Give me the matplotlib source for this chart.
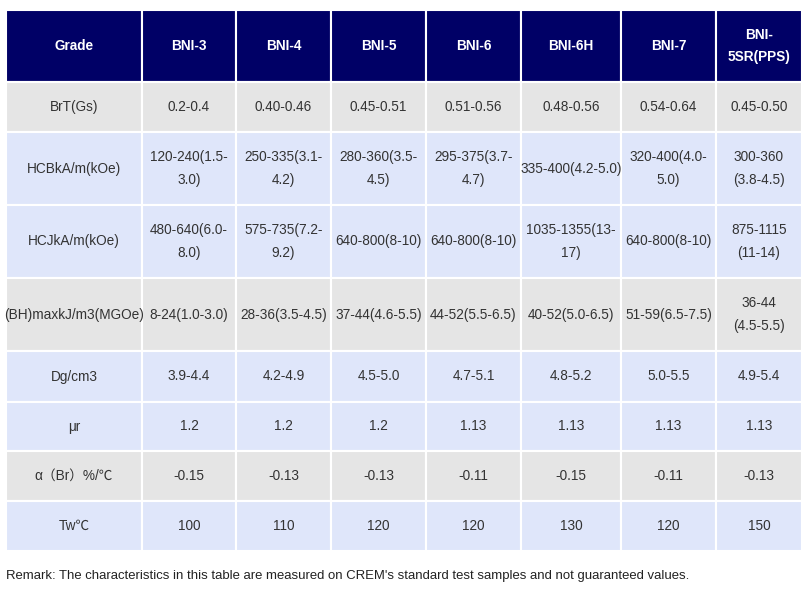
import matplotlib.pyplot as plt
import matplotlib.patches as patches

# table content
grades = ['BNI-3', 'BNI-4', 'BNI-5', 'BNI-6', 'BNI-6H', 'BNI-7', 'BNI-\n5SR(PPS)']
row_labels = ['BrT(Gs)', 'HCBkA/m(kOe)', 'HCJkA/m(kOe)', '(BH)maxkJ/m3(MGOe)',
              'Dg/cm3', '\u03bcr', '\u03b1\uff08Br\uff09%/\u2103', 'Tw\u2103']
brt = ['0.2-0.4', '0.40-0.46', '0.45-0.51', '0.51-0.56', '0.48-0.56', '0.54-0.64', '0.45-0.50']
hcb = ['120-240(1.5-\n3.0)', '250-335(3.1-\n4.2)', '280-360(3.5-\n4.5)', '295-375(3.7-\n4.7)',
       '335-400(4.2-5.0)', '320-400(4.0-\n5.0)', '300-360\n(3.8-4.5)']
hcj = ['480-640(6.0-\n8.0)', '575-735(7.2-\n9.2)', '640-800(8-10)', '640-800(8-10)',
       '1035-1355(13-\n17)', '640-800(8-10)', '875-1115\n(11-14)']
bhmax = ['8-24(1.0-3.0)', '28-36(3.5-4.5)', '37-44(4.6-5.5)', '44-52(5.5-6.5)',
         '40-52(5.0-6.5)', '51-59(6.5-7.5)', '36-44\n(4.5-5.5)']
dg = ['3.9-4.4', '4.2-4.9', '4.5-5.0', '4.7-5.1', '4.8-5.2', '5.0-5.5', '4.9-5.4']
mur = ['1.2', '1.2', '1.2', '1.13', '1.13', '1.13', '1.13']
alpha = ['-0.15', '-0.13', '-0.13', '-0.11', '-0.15', '-0.11', '-0.13']
tw = ['100', '110', '120', '120', '130', '120', '150']
remark = "Remark: The characteristics in this table are measured on CREM's standard test samples and not guaranteed values."

rows = [brt, hcb, hcj, bhmax, dg, mur, alpha, tw]
row_shade = ['grey', 'blue', 'blue', 'grey', 'blue', 'blue', 'grey', 'blue']

# layout in pixels
col_edges = [6, 142, 236, 331, 426, 521, 621, 716, 802]
row_edges = [10, 82, 132, 205, 278, 351, 402, 451, 501, 551]
fills = {'grey': '#e5e5e5', 'blue': '#dfe6fa'}
head_col = '#000066'
txt_col = '#333333'

plt.rcParams['font.family'] = ['Liberation Sans', 'Noto Sans CJK SC', 'DejaVu Sans']
fig = plt.figure(figsize=(8.11, 5.92), dpi=100)
ax = fig.add_axes([0, 0, 1, 1])
ax.set_xlim(0, 811)
ax.set_ylim(592, 0)
ax.axis('off')

def cell(c, r, text, face, color, weight='normal'):
    x0, x1 = col_edges[c], col_edges[c + 1]
    y0, y1 = row_edges[r], row_edges[r + 1]
    ax.add_patch(patches.Rectangle((x0, y0), x1 - x0, y1 - y0, facecolor=face,
                                   edgecolor='white', linewidth=1.5))
    ax.text((x0 + x1) / 2, (y0 + y1) / 2, text, ha='center', va='center',
            fontsize=9.8, color=color, weight=weight, linespacing=1.75)

cell(0, 0, 'Grade', head_col, 'white', 'bold')
for j, g in enumerate(grades):
    cell(j + 1, 0, g, head_col, 'white', 'bold')

for i, (lab, vals) in enumerate(zip(row_labels, rows)):
    face = fills[row_shade[i]]
    cell(0, i + 1, lab, face, txt_col)
    for j, v in enumerate(vals):
        cell(j + 1, i + 1, v, face, txt_col)

ax.text(6, 576, remark, ha='left', va='center', fontsize=9.45, color='#222222')

fig.savefig('out.png', dpi=100)
